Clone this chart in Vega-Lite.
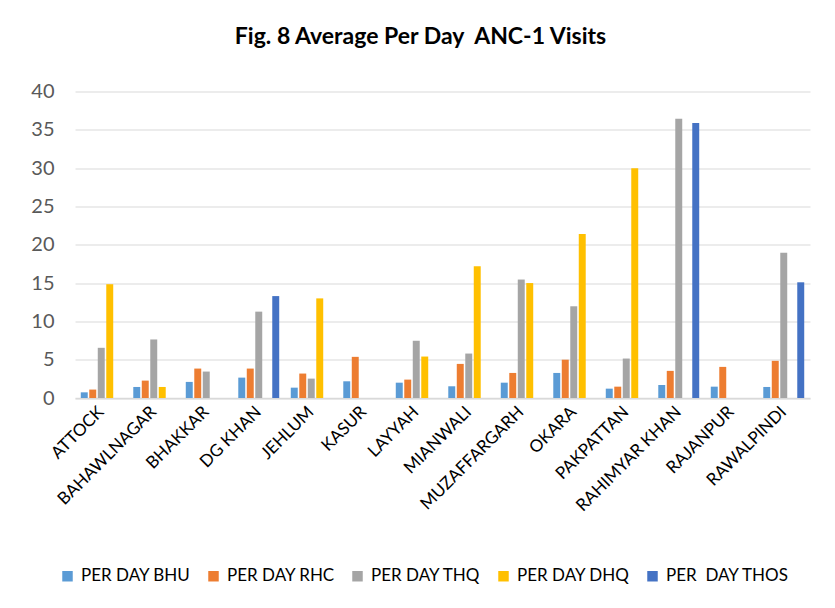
{
  "$schema": "https://vega.github.io/schema/vega-lite/v6.json",
  "width": 735,
  "height": 306.5,
  "autosize": {"type": "none"},
  "padding": {"left": 75, "top": 91.5, "right": 25, "bottom": 210},
  "background": "white",
  "title": {
    "text": "Fig. 8 Average Per Day\u00a0 ANC-1 Visits",
    "font": "Lato",
    "fontSize": 23,
    "fontWeight": "bold",
    "color": "#000000",
    "anchor": "middle",
    "dx": -22,
    "offset": 33
  },
  "data": {
    "values": [
      {"district": "ATTOCK", "series": "PER DAY BHU", "value": 0.74},
      {"district": "ATTOCK", "series": "PER DAY RHC", "value": 1.1},
      {"district": "ATTOCK", "series": "PER DAY THQ", "value": 6.55},
      {"district": "ATTOCK", "series": "PER DAY DHQ", "value": 14.85},
      {"district": "BAHAWLNAGAR", "series": "PER DAY BHU", "value": 1.44},
      {"district": "BAHAWLNAGAR", "series": "PER DAY RHC", "value": 2.27},
      {"district": "BAHAWLNAGAR", "series": "PER DAY THQ", "value": 7.64},
      {"district": "BAHAWLNAGAR", "series": "PER DAY DHQ", "value": 1.44},
      {"district": "BHAKKAR", "series": "PER DAY BHU", "value": 2.1},
      {"district": "BHAKKAR", "series": "PER DAY RHC", "value": 3.84},
      {"district": "BHAKKAR", "series": "PER DAY THQ", "value": 3.45},
      {"district": "DG KHAN", "series": "PER DAY BHU", "value": 2.66},
      {"district": "DG KHAN", "series": "PER DAY RHC", "value": 3.84},
      {"district": "DG KHAN", "series": "PER DAY THQ", "value": 11.27},
      {"district": "DG KHAN", "series": "PER\u00a0 DAY THOS", "value": 13.3},
      {"district": "JEHLUM", "series": "PER DAY BHU", "value": 1.35},
      {"district": "JEHLUM", "series": "PER DAY RHC", "value": 3.19},
      {"district": "JEHLUM", "series": "PER DAY THQ", "value": 2.53},
      {"district": "JEHLUM", "series": "PER DAY DHQ", "value": 13.0},
      {"district": "KASUR", "series": "PER DAY BHU", "value": 2.18},
      {"district": "KASUR", "series": "PER DAY RHC", "value": 5.37},
      {"district": "LAYYAH", "series": "PER DAY BHU", "value": 2.0},
      {"district": "LAYYAH", "series": "PER DAY RHC", "value": 2.4},
      {"district": "LAYYAH", "series": "PER DAY THQ", "value": 7.47},
      {"district": "LAYYAH", "series": "PER DAY DHQ", "value": 5.41},
      {"district": "MIANWALI", "series": "PER DAY BHU", "value": 1.53},
      {"district": "MIANWALI", "series": "PER DAY RHC", "value": 4.45},
      {"district": "MIANWALI", "series": "PER DAY THQ", "value": 5.8},
      {"district": "MIANWALI", "series": "PER DAY DHQ", "value": 17.2},
      {"district": "MUZAFFARGARH", "series": "PER DAY BHU", "value": 2.0},
      {"district": "MUZAFFARGARH", "series": "PER DAY RHC", "value": 3.27},
      {"district": "MUZAFFARGARH", "series": "PER DAY THQ", "value": 15.46},
      {"district": "MUZAFFARGARH", "series": "PER DAY DHQ", "value": 15.0},
      {"district": "OKARA", "series": "PER DAY BHU", "value": 3.27},
      {"district": "OKARA", "series": "PER DAY RHC", "value": 5.0},
      {"district": "OKARA", "series": "PER DAY THQ", "value": 11.97},
      {"district": "OKARA", "series": "PER DAY DHQ", "value": 21.4},
      {"district": "PAKPATTAN", "series": "PER DAY BHU", "value": 1.22},
      {"district": "PAKPATTAN", "series": "PER DAY RHC", "value": 1.48},
      {"district": "PAKPATTAN", "series": "PER DAY THQ", "value": 5.15},
      {"district": "PAKPATTAN", "series": "PER DAY DHQ", "value": 30.0},
      {"district": "RAHIMYAR KHAN", "series": "PER DAY BHU", "value": 1.7},
      {"district": "RAHIMYAR KHAN", "series": "PER DAY RHC", "value": 3.54},
      {"district": "RAHIMYAR KHAN", "series": "PER DAY THQ", "value": 36.46},
      {"district": "RAHIMYAR KHAN", "series": "PER\u00a0 DAY THOS", "value": 35.9},
      {"district": "RAJANPUR", "series": "PER DAY BHU", "value": 1.48},
      {"district": "RAJANPUR", "series": "PER DAY RHC", "value": 4.06},
      {"district": "RAWALPINDI", "series": "PER DAY BHU", "value": 1.44},
      {"district": "RAWALPINDI", "series": "PER DAY RHC", "value": 4.85},
      {"district": "RAWALPINDI", "series": "PER DAY THQ", "value": 18.95},
      {"district": "RAWALPINDI", "series": "PER\u00a0 DAY THOS", "value": 15.1}
    ]
  },
  "mark": {"type": "bar"},
  "encoding": {
    "x": {
      "field": "district",
      "type": "nominal",
      "sort": ["ATTOCK", "BAHAWLNAGAR", "BHAKKAR", "DG KHAN", "JEHLUM", "KASUR", "LAYYAH", "MIANWALI", "MUZAFFARGARH", "OKARA", "PAKPATTAN", "RAHIMYAR KHAN", "RAJANPUR", "RAWALPINDI"],
      "scale": {"paddingInner": 0.22, "paddingOuter": 0.11},
      "axis": {
        "title": null,
        "labelAngle": -45,
        "labelAlign": "right",
        "labelBaseline": "middle",
        "labelFont": "Lato",
        "labelFontSize": 17,
        "labelColor": "#000000",
        "labelPadding": 11,
        "ticks": false,
        "domainColor": "#D9D9D9",
        "domainWidth": 1.5,
        "grid": false
      }
    },
    "xOffset": {
      "field": "series",
      "type": "nominal",
      "sort": ["PER DAY BHU", "PER DAY RHC", "PER DAY THQ", "PER DAY DHQ", "PER\u00a0 DAY THOS"],
      "scale": {"paddingInner": 0.18}
    },
    "y": {
      "field": "value",
      "type": "quantitative",
      "scale": {"domain": [0, 40]},
      "axis": {
        "title": null,
        "values": [0, 5, 10, 15, 20, 25, 30, 35, 40],
        "labelFont": "Lato",
        "labelFontSize": 20,
        "labelColor": "#595959",
        "labelPadding": 21,
        "ticks": false,
        "domain": false,
        "gridColor": "#D9D9D9",
        "gridWidth": 1.2
      }
    },
    "color": {
      "field": "series",
      "type": "nominal",
      "scale": {
        "domain": ["PER DAY BHU", "PER DAY RHC", "PER DAY THQ", "PER DAY DHQ", "PER\u00a0 DAY THOS"],
        "range": ["#5B9BD5", "#ED7D31", "#A5A5A5", "#FFC000", "#4472C4"]
      },
      "legend": {
        "title": null,
        "orient": "none",
        "legendX": -16,
        "legendY": 476,
        "direction": "horizontal",
        "columns": 5,
        "symbolType": "square",
        "symbolSize": 110,
        "symbolStrokeWidth": 0,
        "labelFont": "Lato",
        "labelFontSize": 17,
        "labelColor": "#000000",
        "columnPadding": 14,
        "labelOffset": 5,
        "labelLimit": 300
      }
    }
  },
  "config": {
    "view": {"stroke": null}
  }
}
